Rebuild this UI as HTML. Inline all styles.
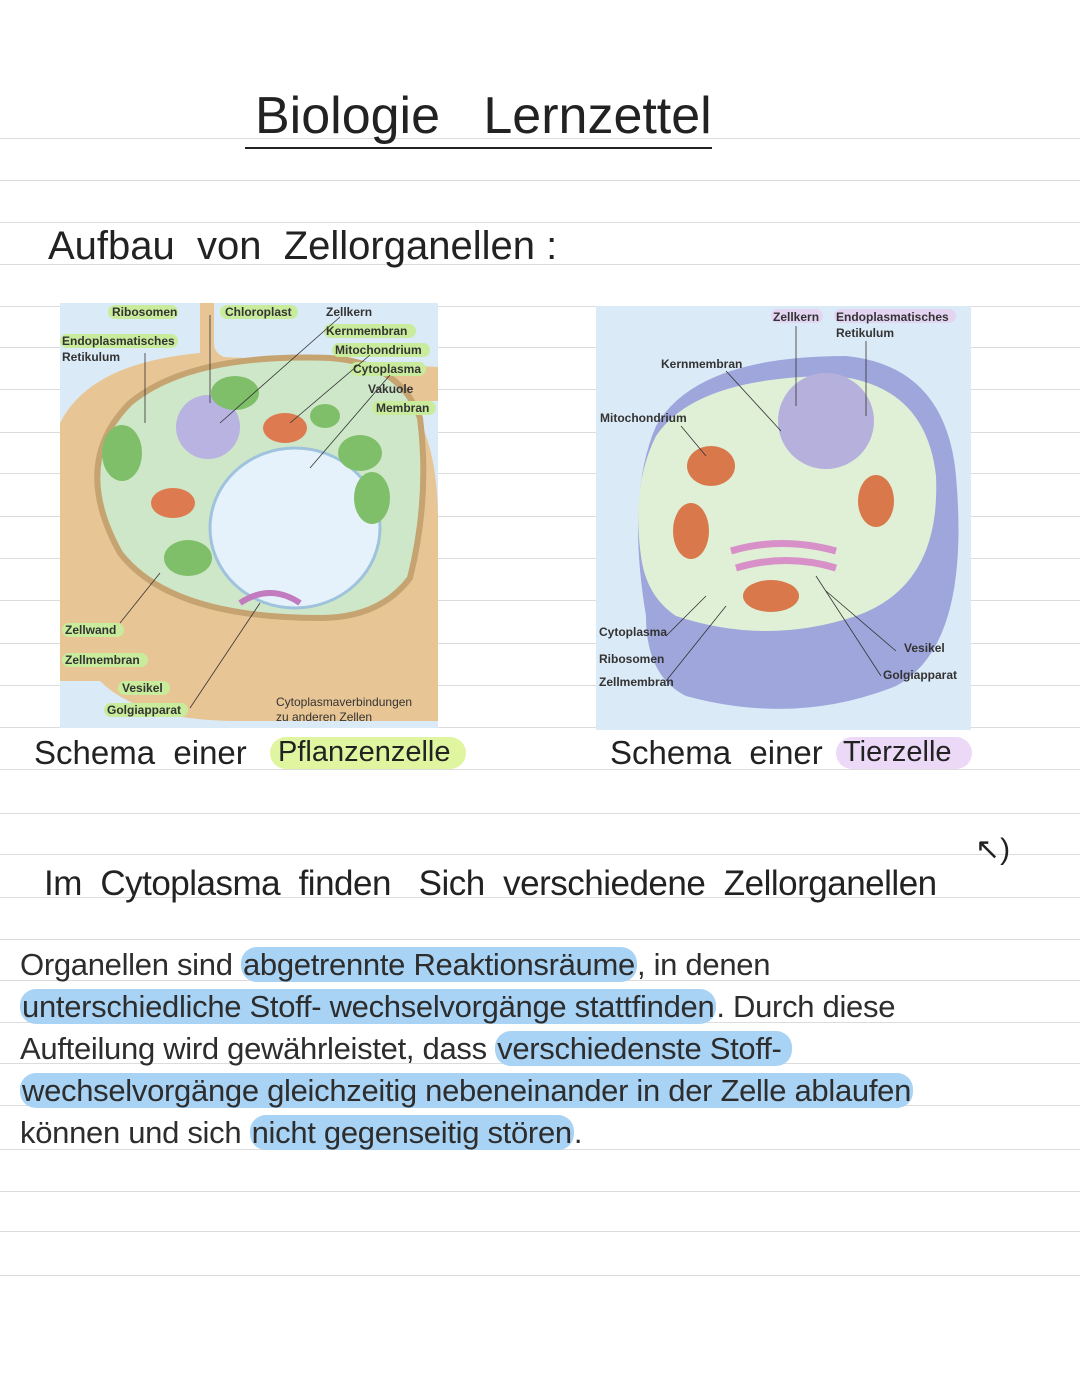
<!DOCTYPE html>
<html><head><meta charset="utf-8"><style>
body{margin:0;width:1080px;height:1394px;background:#fff;position:relative;overflow:hidden;font-family:"Liberation Sans",sans-serif}
.ln{position:absolute;left:0;width:1080px;height:1px;background:#dcdcdc}
.hw{position:absolute;color:#222;font-family:"Liberation Sans",sans-serif;font-weight:300;white-space:nowrap}
.p{position:absolute;left:20px;font-size:31px;color:#2d2d2d;white-space:nowrap;letter-spacing:-0.3px}
.h{background:#a9d3f5;border-radius:16px;padding:0 2px}
.lb{font:bold 12px "Liberation Sans",sans-serif;fill:#333}
</style></head><body>
<div class="ln" style="top:138px"></div><div class="ln" style="top:180px"></div><div class="ln" style="top:222px"></div><div class="ln" style="top:264px"></div><div class="ln" style="top:306px"></div><div class="ln" style="top:347px"></div><div class="ln" style="top:389px"></div><div class="ln" style="top:432px"></div><div class="ln" style="top:473px"></div><div class="ln" style="top:516px"></div><div class="ln" style="top:558px"></div><div class="ln" style="top:600px"></div><div class="ln" style="top:643px"></div><div class="ln" style="top:685px"></div><div class="ln" style="top:727px"></div><div class="ln" style="top:769px"></div><div class="ln" style="top:813px"></div><div class="ln" style="top:854px"></div><div class="ln" style="top:897px"></div><div class="ln" style="top:939px"></div><div class="ln" style="top:980px"></div><div class="ln" style="top:1022px"></div><div class="ln" style="top:1063px"></div><div class="ln" style="top:1105px"></div><div class="ln" style="top:1149px"></div><div class="ln" style="top:1191px"></div><div class="ln" style="top:1231px"></div><div class="ln" style="top:1275px"></div>

<div class="hw" style="left:255px;top:86px;font-size:52px">Biologie&nbsp;&nbsp;&nbsp;Lernzettel</div>
<div style="position:absolute;left:245px;top:147px;width:467px;height:2px;background:#222"></div>
<div class="hw" style="left:48px;top:224px;font-size:40px">Aufbau&nbsp; von&nbsp; Zellorganellen :</div>

<svg style="position:absolute;left:60px;top:303px" width="378" height="425">
<rect width="378" height="425" fill="#dbeaf7"/>
<path d="M140 0h14v40q0 10 10 14l214 10v34l-30 0q30 40 30 120v200H180q-100 0-140-40l-40 0V120q30-60 140-70z" fill="#e8c595"/>
<path d="M60 250q-50-90 10-150q60-50 200-45q70 5 90 60q10 80 -10 160q-30 40-90 40q-150 0-200-65z" fill="#cfe7c9" stroke="#c6a472" stroke-width="6"/>
<ellipse cx="235" cy="225" rx="85" ry="80" fill="#e6f2fb" stroke="#9fc3dd" stroke-width="3"/>
<circle cx="148" cy="124" r="32" fill="#b8b3e0"/>
<ellipse cx="62" cy="150" rx="20" ry="28" fill="#7fbf6a"/><ellipse cx="175" cy="90" rx="24" ry="17" fill="#7fbf6a"/><ellipse cx="300" cy="150" rx="22" ry="18" fill="#7fbf6a"/><ellipse cx="312" cy="195" rx="18" ry="26" fill="#7fbf6a"/><ellipse cx="128" cy="255" rx="24" ry="18" fill="#7fbf6a"/><ellipse cx="265" cy="113" rx="15" ry="12" fill="#7fbf6a"/>
<ellipse cx="113" cy="200" rx="22" ry="15" fill="#dd7a50"/><ellipse cx="225" cy="125" rx="22" ry="15" fill="#dd7a50"/>
<path d="M180 300q30-20 60 0" stroke="#c27bbf" stroke-width="6" fill="none"/>
<g class="lb"><rect x="48" y="2" width="70" height="14" rx="7" fill="#c8ec9b"/><text x="52" y="13">Ribosomen</text>
<rect x="160" y="2" width="78" height="14" rx="7" fill="#c8ec9b"/><text x="165" y="13">Chloroplast</text>
<text x="266" y="13">Zellkern</text><rect x="264" y="21" width="92" height="14" rx="7" fill="#c8ec9b"/><text x="266" y="32">Kernmembran</text>
<rect x="272" y="40" width="98" height="14" rx="7" fill="#c8ec9b"/><text x="275" y="51">Mitochondrium</text>
<rect x="290" y="59" width="76" height="14" rx="7" fill="#c8ec9b"/><text x="293" y="70">Cytoplasma</text>
<text x="308" y="90">Vakuole</text><rect x="312" y="98" width="64" height="14" rx="7" fill="#c8ec9b"/><text x="316" y="109">Membran</text>
<rect x="0" y="31" width="118" height="14" rx="7" fill="#c8ec9b"/><text x="2" y="42">Endoplasmatisches</text><text x="2" y="58">Retikulum</text>
<rect x="2" y="320" width="62" height="14" rx="7" fill="#c8ec9b"/><text x="5" y="331">Zellwand</text>
<rect x="2" y="350" width="86" height="14" rx="7" fill="#c8ec9b"/><text x="5" y="361">Zellmembran</text>
<rect x="58" y="378" width="52" height="14" rx="7" fill="#c8ec9b"/><text x="62" y="389">Vesikel</text>
<rect x="44" y="400" width="84" height="14" rx="7" fill="#c8ec9b"/><text x="47" y="411">Golgiapparat</text>
<text x="216" y="403" style="font-weight:normal">Cytoplasmaverbindungen</text><text x="216" y="418" style="font-weight:normal">zu anderen Zellen</text></g>
<g stroke="#333" stroke-width="0.8"><line x1="150" y1="12" x2="150" y2="100"/><line x1="280" y1="14" x2="160" y2="120"/><line x1="310" y1="52" x2="230" y2="120"/><line x1="330" y1="72" x2="250" y2="165"/><line x1="85" y1="50" x2="85" y2="120"/><line x1="60" y1="320" x2="100" y2="270"/><line x1="130" y1="405" x2="200" y2="300"/></g>
</svg>

<svg style="position:absolute;left:596px;top:306px" width="375" height="424">
<rect width="375" height="424" fill="#dbeaf7"/>
<path d="M60 120q40-70 190-70q100 10 110 120q15 170-60 210q-100 40-210 10q-40-20-40-80q-20-120 10-190z" fill="#9ea6dc"/>
<path d="M60 130q40-60 180-60q90 10 100 100q5 110-80 140q-90 30-180 0q-30-20-35-60q-10-70 15-120z" fill="#dff0d6"/>
<circle cx="230" cy="115" r="48" fill="#b6b0dd"/>
<ellipse cx="115" cy="160" rx="24" ry="20" fill="#d9784b"/><ellipse cx="95" cy="225" rx="18" ry="28" fill="#d9784b"/><ellipse cx="280" cy="195" rx="18" ry="26" fill="#d9784b"/><ellipse cx="175" cy="290" rx="28" ry="16" fill="#d9784b"/>
<path d="M135 245q50-15 105 0M140 262q50-15 100 0" stroke="#d890c8" stroke-width="7" fill="none"/>
<g class="lb"><rect x="175" y="3" width="52" height="14" rx="7" fill="#e3d5f2"/><text x="177" y="15">Zellkern</text>
<rect x="238" y="3" width="122" height="14" rx="7" fill="#e3d5f2"/><text x="240" y="15">Endoplasmatisches</text><text x="240" y="31">Retikulum</text>
<text x="65" y="62">Kernmembran</text><text x="4" y="116">Mitochondrium</text>
<text x="3" y="330">Cytoplasma</text><text x="3" y="357">Ribosomen</text><text x="3" y="380">Zellmembran</text>
<text x="308" y="346">Vesikel</text><text x="287" y="373">Golgiapparat</text></g>
<g stroke="#333" stroke-width="0.8"><line x1="200" y1="20" x2="200" y2="100"/><line x1="270" y1="35" x2="270" y2="110"/><line x1="130" y1="65" x2="185" y2="125"/><line x1="85" y1="120" x2="110" y2="150"/><line x1="70" y1="330" x2="110" y2="290"/><line x1="70" y1="375" x2="130" y2="300"/><line x1="300" y1="345" x2="230" y2="285"/><line x1="285" y1="370" x2="220" y2="270"/></g>
</svg>

<div class="hw" style="left:34px;top:734px;font-size:33px">Schema&nbsp; einer</div>
<div style="position:absolute;left:270px;top:737px;width:196px;height:32px;background:#dff59f;border-radius:16px"></div>
<div class="hw" style="left:278px;top:736px;font-size:29px">Pflanzenzelle</div>
<div class="hw" style="left:610px;top:734px;font-size:33px">Schema&nbsp; einer</div>
<div style="position:absolute;left:836px;top:737px;width:136px;height:32px;background:#ecd9f7;border-radius:16px"></div>
<div class="hw" style="left:843px;top:736px;font-size:29px">Tierzelle</div>

<div class="hw" style="left:44px;top:864px;font-size:35px;letter-spacing:-0.5px">Im&nbsp; Cytoplasma&nbsp; finden&nbsp;&nbsp; Sich&nbsp; verschiedene&nbsp; Zellorganellen</div>
<div class="hw" style="left:975px;top:832px;font-size:30px">↖)</div>

<div class="p" style="top:947px">Organellen sind <span class="h">abgetrennte Reaktionsräume</span>, in denen</div>
<div class="p" style="top:989px"><span class="h">unterschiedliche Stoff- wechselvorgänge stattfinden</span>. Durch diese</div>
<div class="p" style="top:1031px">Aufteilung wird gewährleistet, dass <span class="h">verschiedenste Stoff-&nbsp;</span></div>
<div class="p" style="top:1073px"><span class="h">wechselvorgänge gleichzeitig nebeneinander in der Zelle ablaufen</span></div>
<div class="p" style="top:1115px">können und sich <span class="h">nicht gegenseitig stören</span>.</div>
</body></html>
